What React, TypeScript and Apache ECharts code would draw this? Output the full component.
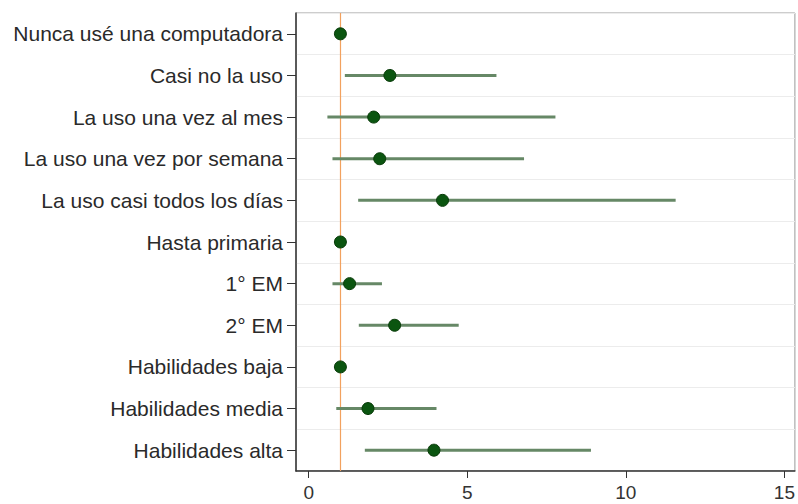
import React, { useEffect, useRef } from "react";
import * as echarts from "echarts";

const categories = [
  "Nunca usé una computadora",
  "Casi no la uso",
  "La uso una vez al mes",
  "La uso una vez por semana",
  "La uso casi todos los días",
  "Hasta primaria",
  "1° EM",
  "2° EM",
  "Habilidades baja",
  "Habilidades media",
  "Habilidades alta",
];
const estimates = [1, 2.56, 2.05, 2.24, 4.22, 1, 1.29, 2.71, 1, 1.87, 3.95];
const lower = [null, 1.14, 0.59, 0.75, 1.56, null, 0.75, 1.58, null, 0.87, 1.77];
const upper = [null, 5.92, 7.78, 6.79, 11.57, null, 2.31, 4.73, null, 4.03, 8.9];
const xTicks = [0, 5, 10, 15];
const referenceValue = 1;

export default function App() {
  const ref = useRef<HTMLDivElement>(null);
  useEffect(() => {
    if (!ref.current) return;
    const chart = echarts.init(ref.current, null, { renderer: "svg" });
    const ciData = categories
      .map((c, i) => [i, lower[i], upper[i]])
      .filter((d) => d[1] != null && d[2] != null);
    chart.setOption({
      animation: false,
      backgroundColor: "#ffffff",
      grid: {
        left: 296,
        top: 13,
        right: 3,
        bottom: 33,
        show: true,
        borderColor: "#9a9a9a",
        borderWidth: 1,
      },
      xAxis: {
        type: "value",
        min: -0.4,
        max: 15.33,
        splitLine: { show: false },
        axisLine: { show: true, onZero: false, lineStyle: { color: "#333", width: 1.5 } },
        axisTick: { show: true, length: 7, customValues: xTicks, lineStyle: { color: "#333" } },
        axisLabel: {
          customValues: xTicks,
          fontSize: 19,
          color: "#333",
          fontFamily: "Liberation Sans, Arial, sans-serif",
          margin: 12,
        },
      },
      yAxis: {
        type: "category",
        data: categories,
        inverse: true,
        boundaryGap: true,
        axisLine: { show: true, onZero: false, lineStyle: { color: "#333", width: 1.5 } },
        axisTick: { show: true, alignWithLabel: true, length: 9, lineStyle: { color: "#333" } },
        axisLabel: {
          fontSize: 21,
          color: "#2a2a2a",
          fontFamily: "Liberation Sans, Arial, sans-serif",
          margin: 13,
        },
        splitLine: { show: true, interval: 0, lineStyle: { color: "#ececec", width: 1 } },
      },
      series: [
        {
          type: "custom",
          name: "ci",
          data: ciData,
          encode: { x: [1, 2], y: 0 },
          renderItem: (params: any, api: any) => {
            const idx = api.value(0);
            const p1 = api.coord([api.value(1), idx]);
            const p2 = api.coord([api.value(2), idx]);
            return {
              type: "line",
              shape: { x1: p1[0], y1: p1[1], x2: p2[0], y2: p2[1] },
              style: { stroke: "#668866", lineWidth: 3 },
            };
          },
          z: 2,
        },
        {
          type: "scatter",
          name: "est",
          data: estimates.map((v, i) => [v, i]),
          symbolSize: 12,
          itemStyle: { color: "#0b5510", borderColor: "#083a08", borderWidth: 1, opacity: 1 },
          z: 3,
          markLine: {
            silent: true,
            symbol: "none",
            label: { show: false },
            lineStyle: { color: "#f2a15e", width: 1.2, type: "solid" },
            data: [{ xAxis: referenceValue }],
            z: 1,
          },
        },
      ],
    });
    return () => chart.dispose();
  }, []);
  return <div ref={ref} style={{ width: 798, height: 504, position: "absolute", left: 0, top: 0 }} />;
}
